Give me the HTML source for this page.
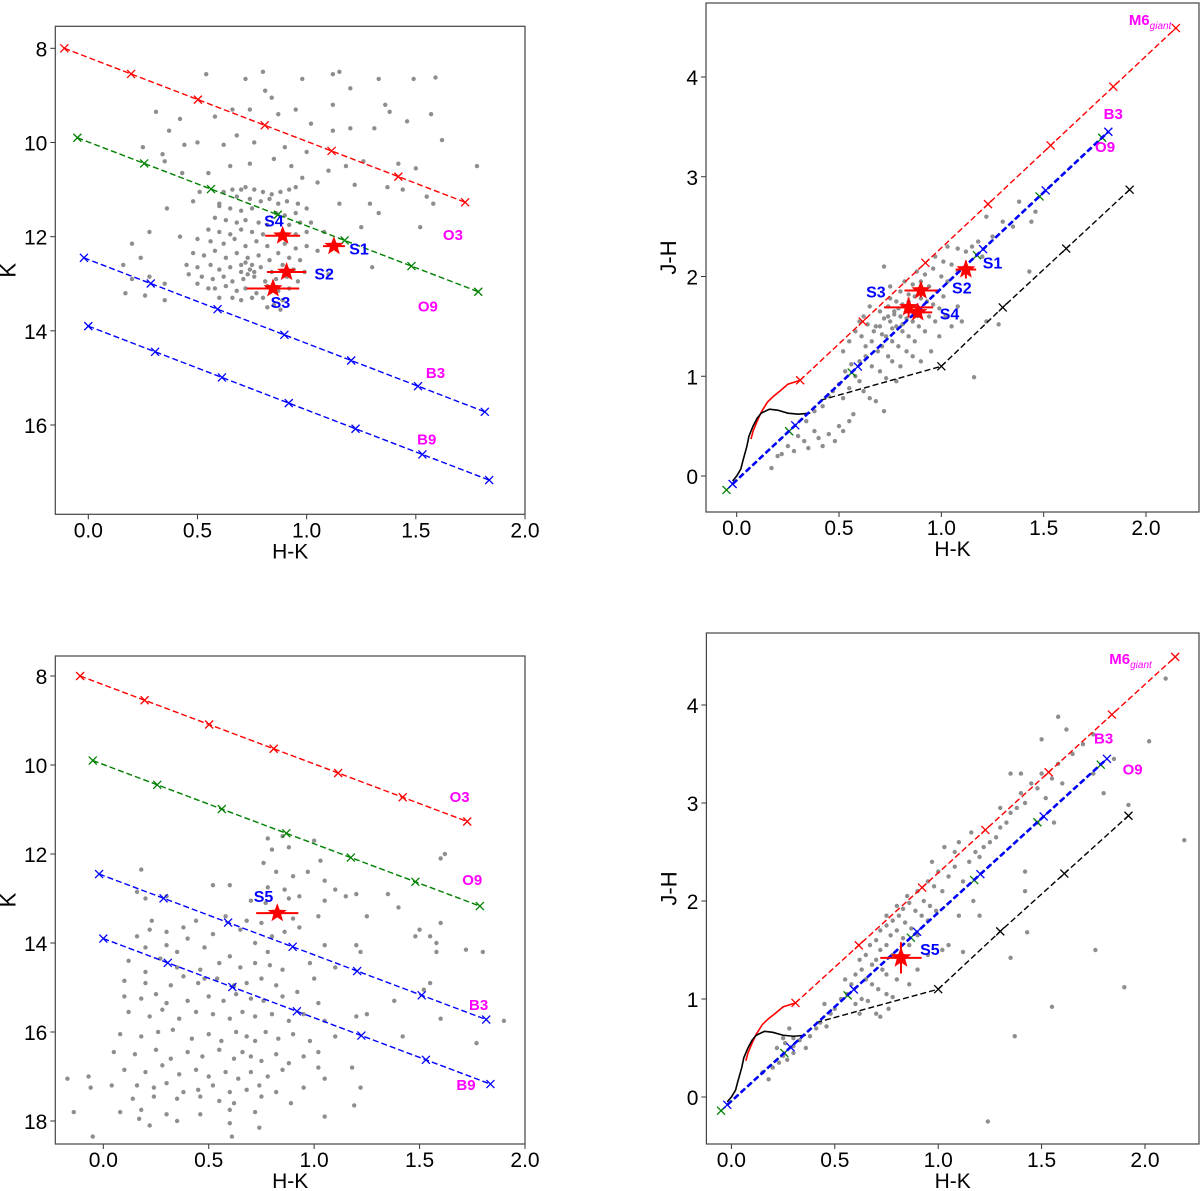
<!DOCTYPE html>
<html><head><meta charset="utf-8"><style>
html,body{margin:0;padding:0;background:#fff;}
svg{display:block;font-family:"Liberation Sans","DejaVu Sans",sans-serif;}
</style></head><body>
<svg id="fig" width="1200" height="1191" viewBox="0 0 1200 1191" xmlns="http://www.w3.org/2000/svg"></svg>
<script>
// ---------- data ----------
const avSteps = [0,5,10,15,20,25,30];
const ehkPerAv = 0.0612, akPerAv = 0.109, ejhPerAv = 0.1177;
const cmdStartX = [-0.11,-0.05,-0.02,0.0];
const cmdStartK = [8.0,9.9,12.45,13.9];
const cmdColors = ['#ff0000','#008000','#0000ff','#0000ff'];
const ccdStartX = [0.31,-0.02,-0.05];
const ccdStartY = [0.96,-0.08,-0.14];
const ccdColors = ['#ff0000','#0000ff','#008000'];
const giantX = [0.07,0.08,0.1,0.12,0.15,0.18,0.21,0.25,0.28,0.31];
const giantY = [0.37,0.45,0.55,0.64,0.74,0.8,0.85,0.92,0.94,0.96];
const dwarfX = [-0.02,0.0,0.02,0.03,0.05,0.06,0.08,0.1,0.12,0.16,0.2,0.25,0.3,0.36];
const dwarfY = [-0.05,0.0,0.07,0.15,0.3,0.4,0.5,0.58,0.63,0.67,0.66,0.63,0.62,0.63];
const cttsX = [0.41,1.0];
const cttsY = [0.76,1.1];
const cttsMarkX = [1.0,1.3,1.61,1.92];
const cttsMarkY = [1.1,1.69,2.28,2.87];

const tlX=[0.54,0.72,0.80,0.98,1.12,1.15,1.33,1.49,1.59,0.81,0.84,1.2,1.12,1.36,1.38,1.46,1.57,0.31,0.42,0.37,0.58,0.66,0.74,0.87,0.95,1.02,1.12,1.2,1.31,1.62,0.25,0.34,0.44,0.5,0.62,0.68,0.76,0.9,1.0,1.18,1.26,1.42,1.5,1.78,0.35,0.43,0.55,0.65,0.74,0.85,0.93,0.98,1.1,1.22,1.37,1.44,1.55,1.58,0.51,0.7,0.95,1.05,1.15,1.29,1.33,1.52,0.36,0.48,0.6,1.25,1.3,0.28,0.42,0.2,0.24,0.16,0.2,0.28,0.35,0.17,0.26,0.35,0.46,0.5,0.55,0.6,0.85,0.75,1.1,1.05,1.08,1.02,
0.62,0.66,0.72,0.76,0.8,0.84,0.88,0.92,0.68,0.74,0.79,0.83,0.87,0.91,0.96,0.6,0.65,0.7,0.75,0.86,0.9,0.95,1.0,0.58,0.63,0.68,0.72,0.78,0.82,0.92,0.97,0.55,0.6,0.65,0.7,0.75,0.8,0.95,1.0,0.5,0.56,0.62,0.67,0.72,0.77,0.82,0.9,0.95,1.0,0.48,0.53,0.58,0.63,0.68,0.73,0.78,0.83,0.87,0.92,0.97,0.45,0.5,0.56,0.6,0.65,0.7,0.74,0.79,0.84,0.89,0.94,0.99,0.52,0.57,0.62,0.66,0.71,0.76,0.81,0.86,0.91,0.96,0.58,0.63,0.68,0.72,0.77,0.82,0.87,0.92,0.66,0.7,0.8,0.89,0.82,0.88,0.72,0.75,0.73,0.76,0.7];
const tlK=[8.55,8.65,8.5,8.65,8.55,8.5,8.65,8.65,8.62,8.9,9.05,8.85,9.2,9.2,9.35,9.55,9.4,9.35,9.5,9.75,9.45,9.3,9.3,9.4,9.3,9.6,9.75,9.7,9.7,9.95,10.1,10.25,10.05,10.0,10.05,9.85,10.0,10.1,10.2,10.5,10.4,10.45,10.55,10.5,10.4,10.65,10.65,10.5,10.45,10.35,10.5,10.75,10.6,10.9,10.95,11.0,11.15,11.3,11.05,11.0,10.95,10.85,11.3,11.3,11.5,11.8,11.4,11.25,11.3,11.8,12.65,11.9,12.0,12.15,12.45,12.6,12.9,12.85,13.0,13.2,13.25,13.35,12.8,13.0,13.1,13.3,13.45,13.3,12.8,12.3,11.9,11.7,
11.05,11.0,10.95,11.0,11.05,11.1,11.05,11.0,11.15,11.2,11.25,11.2,11.3,11.25,11.3,11.35,11.4,11.45,11.4,11.5,11.55,11.5,11.4,11.6,11.65,11.7,11.65,11.7,11.75,11.75,11.7,11.85,11.9,11.95,11.85,11.9,11.95,11.95,11.9,12.05,12.1,12.15,12.05,12.2,12.1,12.2,12.15,12.25,12.2,12.35,12.4,12.3,12.45,12.35,12.45,12.4,12.5,12.35,12.45,12.5,12.6,12.65,12.6,12.7,12.65,12.75,12.7,12.65,12.75,12.6,12.7,12.75,12.85,12.9,12.85,12.95,12.9,12.85,12.95,12.9,12.85,12.95,13.1,13.05,13.15,13.1,13.2,13.05,13.15,13.1,13.3,13.35,13.3,13.35,13.5,13.55,12.55,12.6,12.8,12.75,12.6];

const trX=[0.17,0.2,0.22,0.25,0.28,0.3,0.33,0.35,0.38,0.4,0.42,0.45,0.48,0.5,0.52,0.55,0.57,0.34,0.38,0.42,0.45,0.47,0.5,0.52,0.55,0.58,0.6,0.62,0.65,0.68,0.72,0.53,0.56,0.6,0.63,0.66,0.7,0.73,0.78,0.63,0.66,0.69,0.71,0.74,0.76,0.8,0.67,0.7,0.73,0.76,0.79,0.83,0.86,0.9,0.72,0.75,0.78,0.81,0.84,0.87,0.7,0.74,0.77,0.8,0.83,0.86,0.89,0.92,0.75,0.78,0.81,0.85,0.88,0.91,0.94,0.97,0.8,0.84,0.87,0.9,0.93,0.96,0.99,0.82,0.86,0.9,0.94,0.98,1.01,0.88,0.92,0.96,1.0,1.03,0.97,1.01,1.05,1.08,1.03,1.08,1.12,1.15,1.18,1.2,1.25,1.22,1.3,1.35,1.38,1.46,1.44,1.28,1.22,1.05,1.02,1.08,1.1,0.95,0.99,1.16,1.43,0.62,0.65,0.58,0.6,0.55,0.52,0.72,0.75,0.77,0.79,0.81,0.76,0.68,0.71,0.74,0.84,0.64,0.61];
const trY=[0.08,0.2,0.22,0.3,0.25,0.4,0.35,0.28,0.45,0.38,0.3,0.42,0.35,0.5,0.45,0.55,0.62,0.55,0.65,0.7,0.8,0.85,0.92,0.78,0.88,1.0,0.95,0.85,0.78,0.75,0.65,1.05,1.12,1.15,1.2,1.1,1.05,0.98,0.95,1.3,1.35,1.25,1.3,1.2,1.15,1.1,1.45,1.5,1.4,1.35,1.3,1.25,1.2,1.15,1.58,1.55,1.5,1.45,1.4,1.35,1.65,1.7,1.65,1.6,1.58,1.55,1.5,1.45,1.78,1.75,1.72,1.7,1.68,1.65,1.6,1.55,1.85,1.82,1.8,1.78,1.75,1.72,1.68,1.95,1.92,1.95,1.9,1.85,1.8,2.05,2.02,2.08,2.0,1.95,2.2,2.15,2.12,2.05,2.3,2.28,2.25,2.3,2.35,2.2,2.4,2.6,2.55,2.5,2.75,2.65,2.55,1.52,1.55,1.5,1.6,1.7,1.55,1.25,1.4,0.99,2.05,1.6,1.7,1.45,1.55,1.35,1.25,2.1,1.9,1.62,1.68,1.52,1.48,1.5,1.42,1.6,1.75,1.52,1.4];

const blX=[0.78,0.85,0.8,0.88,1.0,0.76,0.82,0.9,0.97,1.03,1.05,0.52,0.6,0.18,0.78,0.86,0.93,1.1,1.15,1.2,1.35,1.62,1.6,0.16,0.2,0.3,0.7,0.77,0.88,1.05,1.4,0.23,0.44,0.58,0.68,0.75,0.9,1.02,1.25,1.6,0.16,0.22,0.3,0.38,0.4,0.52,0.65,0.8,0.86,0.93,1.5,1.48,1.55,0.2,0.3,0.35,0.48,0.6,0.72,0.78,1.05,1.2,1.22,1.58,1.58,1.72,1.8,0.12,0.2,0.27,0.35,0.46,0.55,0.65,0.72,0.79,0.85,0.98,1.1,0.1,0.2,0.32,0.38,0.45,0.54,0.62,0.68,0.75,0.82,1.0,1.55,0.1,0.18,0.25,0.3,0.4,0.5,0.57,0.63,0.7,0.76,0.85,0.92,1.02,1.38,1.52,0.12,0.22,0.28,0.36,0.44,0.52,0.6,0.66,0.72,0.8,0.88,0.95,1.05,1.2,1.25,1.6,1.9,0.08,0.18,0.26,0.33,0.42,0.5,0.56,0.63,0.68,0.72,0.77,0.83,0.9,0.98,1.1,1.42,1.77,0.05,0.15,0.25,0.32,0.4,0.47,0.55,0.62,0.66,0.7,0.75,0.82,0.88,0.95,1.02,1.18,0.1,0.2,0.28,0.36,0.44,0.5,0.58,0.64,0.7,0.78,0.85,1.05,-0.17,-0.07,0.04,0.16,0.24,0.3,0.38,0.45,0.52,0.6,0.68,0.74,0.82,0.95,1.22,-0.06,0.14,0.24,0.35,0.46,0.55,0.62,0.75,0.89,0.18,0.3,0.46,0.6,0.72,1.19,-0.14,0.08,0.17,0.35,0.6,0.74,1.05,0.22,-0.05,0.61,1.02,0.48];
const blK=[11.65,11.6,11.9,11.85,11.7,12.2,12.4,12.5,12.4,12.15,12.6,12.7,12.7,12.35,12.75,12.8,12.95,12.8,12.95,12.9,12.9,12.0,12.1,12.85,13.0,12.95,13.05,13.1,13.0,13.05,13.2,13.5,13.5,13.4,13.5,13.55,13.45,13.4,13.4,13.55,13.85,13.7,13.75,13.65,13.9,13.8,13.7,13.85,13.75,13.65,13.7,13.85,13.85,14.1,14.05,14.2,14.1,14.3,14.0,14.2,14.05,14.05,14.2,14.0,14.2,14.15,14.2,14.4,14.65,14.35,14.55,14.6,14.45,14.55,14.45,14.5,14.6,14.45,14.55,14.85,14.9,14.95,14.75,14.9,14.8,14.95,14.9,14.8,14.95,14.8,14.9,15.2,15.25,15.15,15.35,15.3,15.2,15.3,15.15,15.25,15.3,15.2,15.1,15.35,15.3,15.05,15.55,15.65,15.5,15.7,15.55,15.6,15.7,15.55,15.65,15.6,15.75,15.6,15.75,15.65,15.6,15.7,15.75,16.05,16.1,16.0,15.95,16.15,16.05,16.2,16.0,16.1,16.2,16.0,16.15,16.05,16.2,16.1,16.1,16.25,16.45,16.5,16.4,16.6,16.45,16.55,16.4,16.6,16.45,16.55,16.65,16.5,16.7,16.55,16.8,16.8,16.85,16.9,16.75,16.95,16.85,17.0,16.9,17.05,16.9,17.0,16.85,17.05,17.05,17.0,17.2,17.2,17.25,17.15,17.35,17.3,17.2,17.35,17.3,17.2,17.35,17.25,17.25,17.25,17.5,17.45,17.5,17.45,17.55,17.6,17.45,17.6,17.75,17.85,17.85,17.75,17.8,17.65,17.8,17.8,17.95,18.0,18.05,18.15,17.9,18.1,18.35,18.35,16.45,14.8];

const brX=[0.18,0.2,0.23,0.25,0.27,0.3,0.22,0.26,0.3,0.33,0.36,0.38,0.41,0.43,0.46,0.48,0.5,0.45,0.53,0.56,0.6,0.63,0.66,0.7,0.76,0.55,0.58,0.6,0.63,0.65,0.68,0.71,0.75,0.78,0.62,0.65,0.68,0.7,0.73,0.75,0.8,0.86,0.67,0.7,0.72,0.75,0.78,0.72,0.75,0.77,0.8,0.83,0.86,0.75,0.78,0.81,0.84,0.87,0.9,0.8,0.83,0.86,0.89,0.92,0.95,0.85,0.9,0.93,0.96,0.99,0.95,0.98,1.02,1.05,1.0,1.08,1.12,1.15,1.18,1.2,1.22,1.25,1.28,1.3,1.33,1.35,1.38,1.4,1.42,1.45,1.48,1.5,1.52,1.55,1.58,1.6,1.65,1.7,1.75,1.62,1.58,1.5,1.35,1.4,1.1,1.42,1.42,1.43,1.35,1.37,1.55,1.9,1.76,1.92,2.1,2.02,2.19,1.24,1.05,1.02,1.12,1.1,1.17,1.2,0.95,0.9,0.62,0.72,0.3,0.28,0.25,0.15,1.85,1.75,1.8,1.48,1.56,1.3,0.97,1.03,1.08,1.16];
const brY=[0.18,0.3,0.35,0.42,0.38,0.45,0.5,0.55,0.52,0.58,0.5,0.62,0.7,0.76,0.72,0.85,0.9,0.95,1.0,1.05,0.95,1.0,0.98,0.85,0.9,1.2,1.15,1.25,1.3,1.2,1.15,1.1,1.05,1.02,1.4,1.45,1.35,1.4,1.3,1.25,1.2,1.15,1.55,1.6,1.5,1.55,1.45,1.7,1.75,1.65,1.7,1.62,1.55,1.85,1.8,1.85,1.78,1.72,1.65,1.95,1.92,1.98,1.9,1.85,1.8,2.05,2.1,2.0,1.95,1.9,2.2,2.15,2.1,2.25,2.3,2.35,2.2,2.4,2.5,2.45,2.55,2.6,2.65,2.75,2.8,2.9,2.95,3.1,3.0,3.2,3.15,3.3,3.05,3.25,3.4,3.2,3.5,3.6,3.7,3.75,3.88,3.65,3.3,3.3,2.6,2.3,2.1,1.68,1.42,0.62,0.92,1.12,1.5,2.98,4.27,3.63,2.62,-0.25,1.55,1.5,1.48,1.85,2.0,1.85,1.45,1.3,0.85,0.82,0.6,0.7,0.6,0.25,3.45,3.3,3.1,2.8,2.8,2.95,2.4,2.55,2.5,2.7];

const tlStarX=[1.125,0.908,0.846,0.89], tlStarY=[12.2,12.75,13.1,11.98], tlStarXerr=[0.05,0.09,0.12,0.08];
const tlStarNames=['S1','S2','S3','S4'], tlLabX=[1.24,1.08,0.88,0.85], tlLabY=[12.27,12.8,13.41,11.68];
const trStarX=[1.12,0.90,0.84,0.885], trStarY=[2.07,1.86,1.69,1.64], trStarXerr=[0.05,0.08,0.12,0.07], trStarYerr=[0.09,0.07,0.1,0.05];
const trLabX=[1.25,1.10,0.68,1.04], trLabY=[2.13,1.88,1.84,1.62];
const blStarX=[0.825], blStarY=[13.33], blStarXerr=[0.1];
const brStarX=[0.82], brStarY=[1.42], brStarXerr=[0.1], brStarYerr=[0.16];

// ---------- helpers ----------
const NS='http://www.w3.org/2000/svg';
const svg=document.getElementById('fig');
function mk(tag,attrs,parent){const e=document.createElementNS(NS,tag);for(const k in attrs)e.setAttribute(k,attrs[k]);(parent||svg).appendChild(e);return e;}
function lin(d0,p0,d1,p1){return v=>p0+(v-d0)*(p1-p0)/(d1-d0);}

const panels={
 tl:{L:55.3,R:525,T:26.3,B:514.3,x:lin(0,88.3,2,525),y:lin(8,48.3,16,425),xt:[0,0.5,1,1.5,2],yt:[8,10,12,14,16],ylab:'K'},
 tr:{L:706,R:1199,T:3,B:512,x:lin(0,736.7,2,1146),y:lin(0,476,4,77),xt:[0,0.5,1,1.5,2],yt:[0,1,2,3,4],ylab:'J-H'},
 bl:{L:55.3,R:525,T:656,B:1144,x:lin(0,103.3,2,525),y:lin(8,676,18,1121),xt:[0,0.5,1,1.5,2],yt:[8,10,12,14,16,18],ylab:'K'},
 br:{L:706.4,R:1199,T:633,B:1144,x:lin(0,731.4,2,1145),y:lin(0,1097,4,705),xt:[0,0.5,1,1.5,2],yt:[0,1,2,3,4],ylab:'J-H'}
};

function frame(id,p){
  const g=mk('g',{});
  
  
  const cp=mk('clipPath',{id:'clip-'+id},g);
  mk('rect',{x:p.L,y:p.T,width:p.R-p.L,height:p.B-p.T},cp);
  p.g=g;
  p.plot=mk('g',{'clip-path':'url(#clip-'+id+')'},g);
  
  
  p.xt.forEach(v=>{const X=p.x(v);
    mk('line',{x1:X,x2:X,y1:p.B,y2:p.B+5,stroke:'#333','stroke-width':1},g);
    const t=mk('text',{x:X,y:p.B+23,'font-size':21,'text-anchor':'middle',fill:'#000'},g);t.textContent=v.toFixed(1);
    
    
  });
  p.yt.forEach(v=>{const Y=p.y(v);
    mk('line',{x1:p.L-5,x2:p.L,y1:Y,y2:Y,stroke:'#333','stroke-width':1},g);
    const t=mk('text',{x:p.L-8,y:Y+8,'font-size':21,'text-anchor':'end',fill:'#000'},g);t.textContent=String(v);
    
    
  });
  const xl=mk('text',{x:(p.L+p.R)/2,y:p.B+44,'font-size':21,'text-anchor':'middle',fill:'#000'},g);xl.textContent='H-K';
  
  
  const yx=p.L-(p.ylab==='K'?40:30), yy=(p.T+p.B)/2;
  const yl=mk('text',{x:yx,y:yy,'font-size':22,'text-anchor':'middle',fill:'#000',transform:`rotate(-90 ${yx} ${yy})`},g);yl.textContent=p.ylab;
  
  
}
function border(p){mk('rect',{x:p.L,y:p.T,width:p.R-p.L,height:p.B-p.T,fill:'none',stroke:'#444','stroke-width':1.2},p.g);}
function dots(p,xs,ys){xs.forEach((v,i)=>{const c=mk('circle',{cx:p.x(v),cy:p.y(ys[i]),r:2.2,fill:'#8e8e8e'},p.plot);
  
  });}
function xmark(p,X,Y,col,s){s=s||4;mk('path',{d:`M${X-s},${Y-s}L${X+s},${Y+s}M${X-s},${Y+s}L${X+s},${Y-s}`,stroke:col,'stroke-width':1.3,fill:'none'},p.plot);}
function polyline(p,xs,ys,col,w,dash,name){const pts=xs.map((v,i)=>p.x(v)+','+p.y(ys[i])).join(' ');
  const l=mk('polyline',{points:pts,fill:'none',stroke:col,'stroke-width':w,'stroke-dasharray':dash||'none'},p.plot);
  
  return l;}
function starPath(cx,cy,R){let d='';for(let k=0;k<10;k++){const r=k%2?R*0.42:R;const a=-Math.PI/2+k*Math.PI/5;d+=(k?'L':'M')+(cx+r*Math.cos(a)).toFixed(1)+','+(cy+r*Math.sin(a)).toFixed(1);}return d+'Z';}
function stars(p,xs,ys,xe,ye,R){xs.forEach((v,i)=>{const X=p.x(v),Y=p.y(ys[i]);
  mk('line',{x1:p.x(v-xe[i]),x2:p.x(v+xe[i]),y1:Y,y2:Y,stroke:'#ff0000','stroke-width':2},p.plot);
  if(ye) mk('line',{x1:X,x2:X,y1:p.y(ys[i]-ye[i]),y2:p.y(ys[i]+ye[i]),stroke:'#ff0000','stroke-width':2},p.plot);
  const s=mk('path',{d:starPath(X,Y,R),fill:'#ff0000'},p.plot);
  
  });}
function label(p,txt,xv,yv,col,size,name,sub){const t=mk('text',{x:p.x(xv),y:p.y(yv)+5,'font-size':size||14,'font-weight':'bold',fill:col,'text-anchor':'middle'},p.g);
  t.textContent=txt;
  if(sub){const ts=mk('tspan',{'font-size':10,'font-weight':'normal','font-style':'italic',dy:4},t);ts.textContent=sub;}
  
  }

function cmd(id,p,xs,ys,labs){
  frame(id,p);
  dots(p,xs,ys);
  cmdStartX.forEach((x0,i)=>{
    const lx=avSteps.map(a=>x0+a*ehkPerAv), ly=avSteps.map(a=>cmdStartK[i]+a*akPerAv);
    polyline(p,lx,ly,cmdColors[i],1.4,'6,3','reddening-vector');
    lx.forEach((v,j)=>xmark(p,p.x(v),p.y(ly[j]),cmdColors[i]));
  });
  labs.forEach(l=>label(p,l[0],l[1],l[2],'#ff00ff',15,'spectral-type-label'));
  border(p);
}
const P=panels;
cmd('tl',P.tl,tlX,tlK,[['O3',1.67,11.96],['O9',1.555,13.48],['B3',1.59,14.9],['B9',1.55,16.31]]);
stars(P.tl,tlStarX,tlStarY,tlStarXerr,null,10);
tlStarNames.forEach((n,i)=>label(P.tl,n,tlLabX[i],tlLabY[i],'#0000ff',16,'source-label'));
cmd('bl',P.bl,blX,blK,[['O3',1.69,10.72],['O9',1.75,12.58],['B3',1.78,15.39],['B9',1.72,17.19]]);
stars(P.bl,blStarX,blStarY,blStarXerr,null,10);
label(P.bl,'S5',0.76,12.97,'#0000ff',16,'source-label');

function ccd(id,p,xs,ys,labs){
  frame(id,p);
  dots(p,xs,ys);
  polyline(p,giantX,giantY,'#ff0000',1.6,null,'giant-locus');
  polyline(p,dwarfX,dwarfY,'#000000',1.6,null,'dwarf-locus');
  polyline(p,cttsX,cttsY,'#000000',1.4,'6,3','ctts-locus');
  polyline(p,cttsMarkX,cttsMarkY,'#000000',1.4,'6,3','ctts-reddening');
  cttsMarkX.forEach((v,j)=>xmark(p,p.x(v),p.y(cttsMarkY[j]),'#000'));
  [2,0,1].forEach(i=>{
    const lx=avSteps.map(a=>ccdStartX[i]+a*ehkPerAv), ly=avSteps.map(a=>ccdStartY[i]+a*ejhPerAv);
    polyline(p,lx,ly,ccdColors[i],i===1?2.6:1.4,'6,3','reddening-vector');
    lx.forEach((v,j)=>xmark(p,p.x(v),p.y(ly[j]),ccdColors[i]));
  });
  labs.forEach(l=>label(p,l[0],l[1],l[2],'#ff00ff',15,'spectral-type-label',l[3]));
  border(p);
}
ccd('tr',P.tr,trX,trY,[['M6',2.02,4.57,'giant'],['B3',1.84,3.63],['O9',1.8,3.3]]);
stars(P.tr,trStarX,trStarY,trStarXerr,trStarYerr,10);
tlStarNames.forEach((n,i)=>label(P.tr,n,trLabX[i],trLabY[i],'#0000ff',16,'source-label'));
ccd('br',P.br,brX,brY,[['M6',1.93,4.47,'giant'],['B3',1.8,3.66],['O9',1.94,3.34]]);
stars(P.br,brStarX,brStarY,brStarXerr,brStarYerr,11);
label(P.br,'S5',0.96,1.5,'#0000ff',16,'source-label');
</script>
</body></html>
